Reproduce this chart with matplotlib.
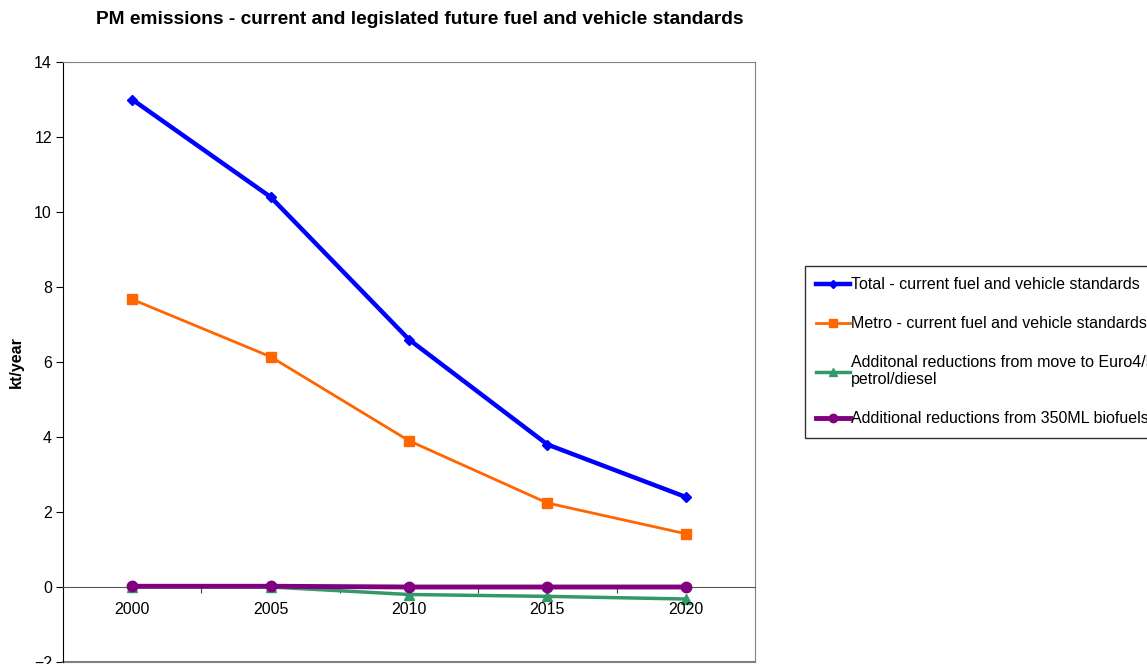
import matplotlib.pyplot as plt

plt.rcParams['font.family'] = ['Liberation Sans', 'DejaVu Sans']

# PM emissions, kt/year
years = ['2000', '2005', '2010', '2015', '2020']
total = [13.0, 10.4, 6.6, 3.8, 2.4]
metro = [7.67, 6.14, 3.9, 2.24, 1.42]
euro45 = [0.0, 0.0, -0.2, -0.25, -0.32]
biofuels = [0.02, 0.02, 0.0, 0.0, 0.0]

labels = ['Total - current fuel and vehicle standards',
          'Metro - current fuel and vehicle standards',
          'Additonal reductions from move to Euro4/5\npetrol/diesel',
          'Additional reductions from 350ML biofuels']

fig = plt.figure(figsize=(11.47, 6.64), dpi=100)
ax = fig.add_axes([63 / 1147, 1 - 662 / 664, 692 / 1147, 600 / 664])

x = range(len(years))
ax.plot(x, total, color='#0000FF', lw=3.2, marker='D', ms=5, label=labels[0], zorder=5)
ax.plot(x, metro, color='#FF6600', lw=2, marker='s', ms=6.5, label=labels[1], zorder=4)
ax.plot(x, euro45, color='#339966', lw=2.5, marker='^', ms=7, label=labels[2], zorder=3)
ax.plot(x, biofuels, color='#800080', lw=3.5, marker='o', ms=7.5, label=labels[3], zorder=4)

ax.set_xlim(-0.5, 4.5)
ax.set_ylim(-2, 14)
ax.set_yticks(range(-2, 15, 2))

# category labels under the zero line, ticks between categories
ax.set_xticks([i + 0.5 for i in range(4)])
ax.set_xticklabels([])
ax.tick_params(axis='x', direction='out', length=4, color='#404040')
for i, yr in enumerate(years):
    ax.text(i, -0.6, yr, ha='center', va='center', fontsize=11.5)
ax.tick_params(axis='y', direction='out', length=5, labelsize=11.5, pad=3)

ax.spines['bottom'].set_position(('data', 0))
ax.spines['bottom'].set_color('#555555')
ax.spines['left'].set_color('black')
for s in ['top', 'right']:
    ax.spines[s].set_color('#808080')
ax.axhline(-2, color='#808080', lw=1.5, clip_on=False)

ax.set_ylabel('kt/year', fontsize=11.5, fontweight='bold', labelpad=7)
fig.text(420 / 1147, 1 - 20 / 664, 'PM emissions - current and legislated future fuel and vehicle standards',
         ha='center', va='center', fontsize=13.8, fontweight='bold')

leg = fig.legend(loc='upper left', bbox_to_anchor=(805 / 1147, 1 - 266 / 664),
                 fontsize=11.5, frameon=True, fancybox=False, edgecolor='black',
                 handlelength=2.1, handletextpad=0.1, labelspacing=1.5,
                 borderpad=0.7, borderaxespad=0, markerscale=0.8)
leg.get_frame().set_linewidth(1)

fig.savefig('out.png', dpi=100)
